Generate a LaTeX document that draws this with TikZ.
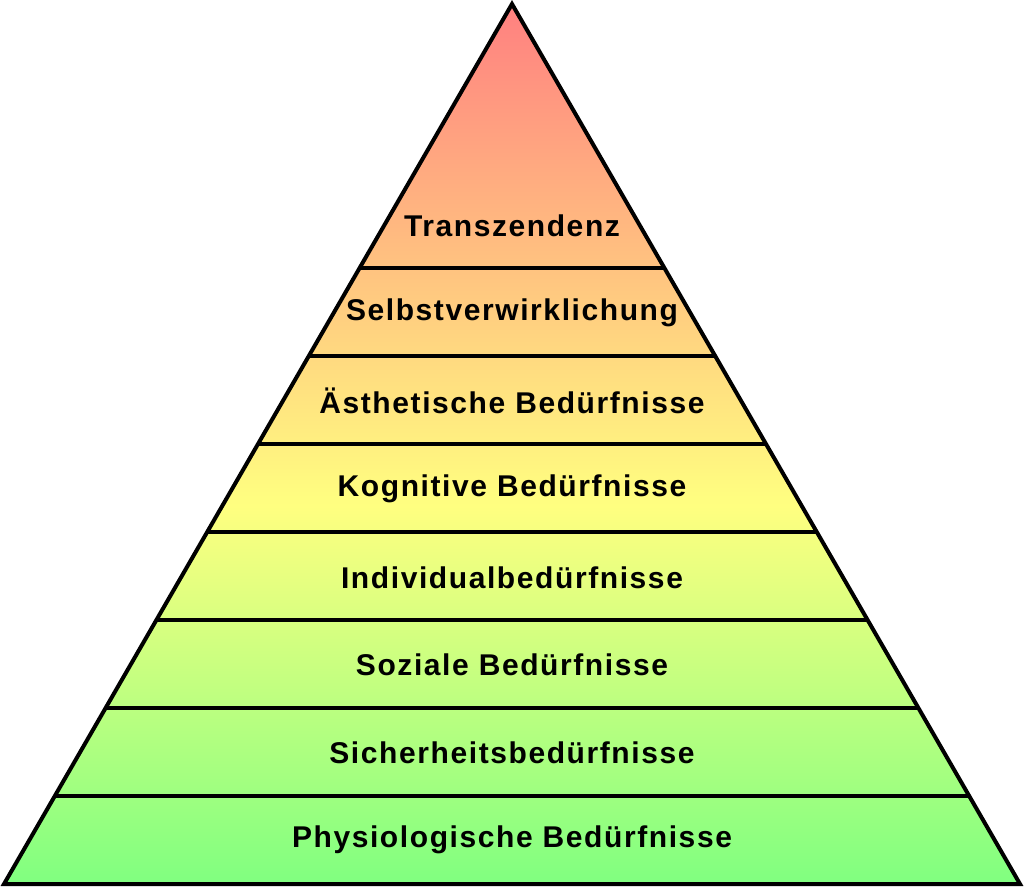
\documentclass[tikz,border=0pt]{standalone}
\usepackage{fontspec}
\setmainfont{Liberation Sans}
\newfontfamily\labelfont[LetterSpace=5.3]{Liberation Sans Bold}
\definecolor{pred}{RGB}{255,128,128}
\definecolor{pyellow}{RGB}{255,255,128}
\definecolor{pgreen}{RGB}{128,255,128}
\pgfdeclareverticalshading{pyrshade}{100bp}{%
  color(0bp)=(pgreen); color(25bp)=(pgreen); color(46.5bp)=(pyellow);
  color(75bp)=(pred); color(100bp)=(pred)}
\begin{document}
\begin{tikzpicture}[x=1pt,y=-1pt,
  layertext/.style={anchor=base,inner sep=0pt,font=\labelfont\fontsize{30}{33}\selectfont,text=black},
  edge/.style={line width=4pt,line join=miter}]
\useasboundingbox (0,0) rectangle (1024,887);
\coordinate (apex) at (512,4);
\coordinate (bl) at (4,884);
\coordinate (br) at (1020,884);
\shade[shading=pyrshade] (apex) -- (bl) -- (br) -- cycle;
\foreach \yy in {268,356,444,532,620,708,796}{
  \pgfmathsetmacro{\hw}{(\yy-4)/880*508}
  \draw[edge] ({512-\hw},\yy) -- ({512+\hw},\yy);
}
\draw[edge] (apex) -- (bl) -- (br) -- cycle;
\node[layertext] (l8) at (512,236) {Transzendenz};
\node[layertext] (l7) at (512,320) {Selbstverwirklichung};
\node[layertext] (l6) at (512,413) {Ästhetische Bedürfnisse};
\node[layertext] (l5) at (512,496) {Kognitive Bedürfnisse};
\node[layertext] (l4) at (512,588) {Individualbedürfnisse};
\node[layertext] (l3) at (512,675) {Soziale Bedürfnisse};
\node[layertext] (l2) at (512,763) {Sicherheitsbedürfnisse};
\node[layertext] (l1) at (512,847) {Physiologische Bedürfnisse};
\end{tikzpicture}
\end{document}
